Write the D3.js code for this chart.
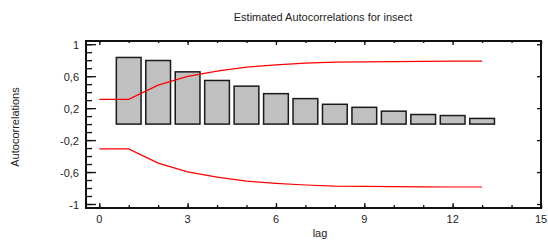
<!DOCTYPE html>
<html>
<head>
<meta charset="utf-8">
<script src="https://cdn.jsdelivr.net/npm/d3@7"></script>
<style>
  body { margin: 0; background: #fff; }
  text { font-family: "Liberation Sans", Arial, sans-serif; fill: #222; }
</style>
</head>
<body>
<script>
// autocorrelation plot for insect, lags 1..13 with upper/lower limits

var lags = [1, 2, 3, 4, 5, 6, 7, 8, 9, 10, 11, 12, 13];
var acf = [0.834, 0.796, 0.654, 0.546, 0.475, 0.381, 0.319, 0.248, 0.21, 0.162, 0.12, 0.107, 0.071];

var limitLags = [0, 1, 2, 3, 4, 5, 6, 7, 8, 9, 10, 11, 12, 13];
var upper = [0.31, 0.31, 0.488, 0.597, 0.664, 0.714, 0.741, 0.762, 0.775, 0.779, 0.783, 0.786, 0.787, 0.787];
var lower = upper.map(d => -d);

var xTicks = [0, 3, 6, 9, 12, 15];
var yTicks = [1, 0.6, 0.2, -0.2, -0.6, -1];

var width = 548, height = 241;

var x = d3.scaleLinear()
    .domain([-0.45, 15])
    .range([86, 541]);

var y = d3.scaleLinear()
    .domain([-1.05, 1.04])
    .range([208, 41]);

var svg = d3.select('body')
  .append('svg')
    .attr('width', width)
    .attr('height', height);

var fmt = d => String(d).replace('.', ',');

// bars
var bw = 0.84;
svg.selectAll('rect.bar')
  .data(lags)
  .enter()
  .append('rect')
    .attr('class', 'bar')
    .attr('x', (d, i) => x(d - bw / 2))
    .attr('y', (d, i) => y(acf[i]))
    .attr('width', x(bw) - x(0))
    .attr('height', (d, i) => y(0) - y(acf[i]))
    .attr('fill', '#c0c0c0')
    .attr('stroke', '#1a1a1a')
    .attr('stroke-width', 1.5);

// limit lines
var line = d3.line()
    .x((d, i) => x(limitLags[i]))
    .y(d => y(d));

[upper, lower].forEach(function(vals) {
  svg.append('path')
    .attr('d', line(vals))
    .attr('fill', 'none')
    .attr('stroke', '#ff0000')
    .attr('stroke-width', 1.2);
});

// axes: ticks point inward
var minorY = d3.range(-10, 11).map(d => d / 10);
var minorX = d3.range(0, 16);

svg.append('g')
  .attr('transform', 'translate(86,0)')
  .call(d3.axisRight(y).tickValues(minorY).tickSize(6).tickFormat(''));
svg.append('g')
  .attr('transform', 'translate(86,0)')
  .call(d3.axisRight(y).tickValues(yTicks).tickSize(10).tickFormat(''));
svg.append('g')
  .attr('transform', 'translate(541,0)')
  .call(d3.axisLeft(y).tickValues(yTicks).tickSize(4).tickFormat(''));
svg.append('g')
  .attr('transform', 'translate(0,208)')
  .call(d3.axisTop(x).tickValues(minorX).tickSize(3).tickFormat(''));
svg.append('g')
  .attr('transform', 'translate(0,208)')
  .call(d3.axisTop(x).tickValues(xTicks).tickSize(5).tickFormat(''));
svg.append('g')
  .attr('transform', 'translate(0,41)')
  .call(d3.axisBottom(x).tickValues(minorX).tickSize(2).tickFormat(''));
svg.append('g')
  .attr('transform', 'translate(0,41)')
  .call(d3.axisBottom(x).tickValues(xTicks).tickSize(4).tickFormat(''));

svg.selectAll('.domain').remove();
svg.selectAll('.tick line').attr('stroke', '#111').attr('stroke-width', 1.3);

// frame
svg.append('rect')
  .attr('x', 86)
  .attr('y', 41)
  .attr('width', 541 - 86)
  .attr('height', 208 - 41)
  .attr('fill', 'none')
  .attr('stroke', '#111')
  .attr('stroke-width', 2);

// tick labels
svg.selectAll('text.ylab')
  .data(yTicks)
  .enter()
  .append('text')
    .attr('class', 'ylab')
    .attr('x', 79)
    .attr('y', d => y(d) + 5)
    .attr('text-anchor', 'end')
    .style('font-size', '11px')
    .text(fmt);

svg.selectAll('text.xlab')
  .data(xTicks)
  .enter()
  .append('text')
    .attr('class', 'xlab')
    .attr('x', d => x(d))
    .attr('y', 223)
    .attr('text-anchor', 'middle')
    .style('font-size', '11px')
    .text(fmt);

svg.append('text')
  .attr('x', 323)
  .attr('y', 21)
  .attr('text-anchor', 'middle')
  .style('font-size', '11px')
  .text('Estimated Autocorrelations for insect');

svg.append('text')
  .attr('x', 320)
  .attr('y', 237)
  .attr('text-anchor', 'middle')
  .style('font-size', '11px')
  .text('lag');

svg.append('text')
  .attr('transform', 'translate(19,127) rotate(-90)')
  .attr('text-anchor', 'middle')
  .style('font-size', '11px')
  .text('Autocorrelations');
</script>
</body>
</html>
